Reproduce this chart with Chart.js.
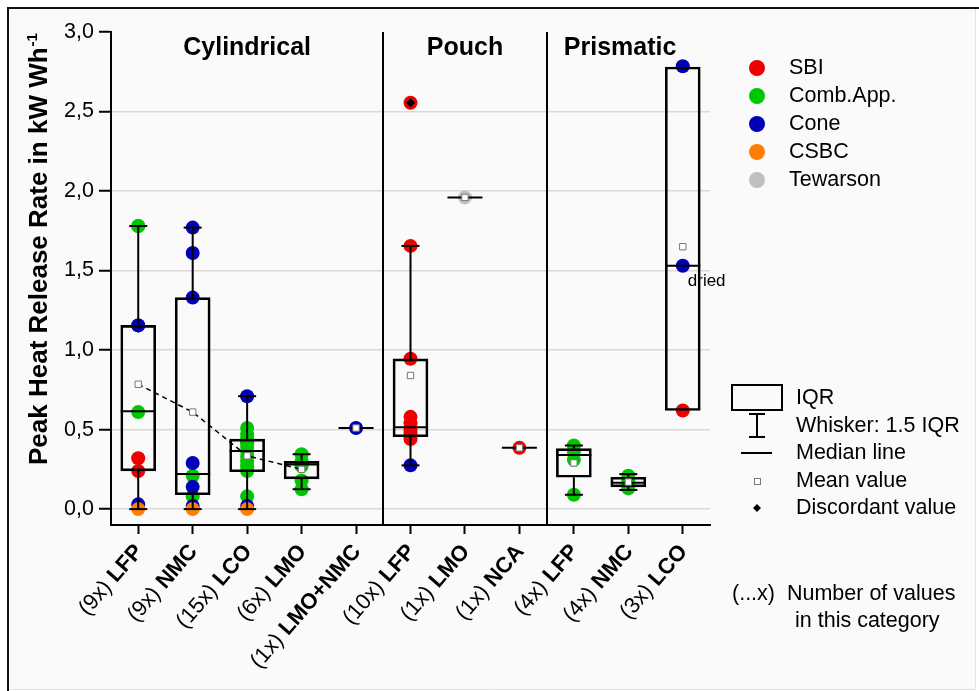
<!DOCTYPE html>
<html>
<head>
<meta charset="utf-8">
<script src="https://cdn.jsdelivr.net/npm/chart.js@4.4.0/dist/chart.umd.min.js"></script>
<style>
  html, body { margin: 0; padding: 0; background: #ffffff; }
  #wrap { width: 979px; height: 691px; }
</style>
</head>
<body>
<div id="wrap"><canvas id="hrr" width="979" height="691"></canvas></div>
<script>
// categories (cell format + chemistry)
const counts = ['(9x)', '(9x)', '(15x)', '(6x)', '(1x)', '(10x)', '(1x)', '(1x)', '(4x)', '(4x)', '(3x)'];
const chemistry = ['LFP', 'NMC', 'LCO', 'LMO', 'LMO+NMC', 'LFP', 'LMO', 'NCA', 'LFP', 'NMC', 'LCO'];
const groups = ['Cylindrical', 'Pouch', 'Prismatic'];
const groupCenters = [2, 6, 8.85];
const groupSeparators = [4.5, 7.5];
const yTickValues = [0, 0.5, 1, 1.5, 2, 2.5, 3];

// box statistics per category (null = only one value)
const whiskerLow  = [0.00, 0.00, 0.00, 0.125, null, 0.275, null, null, 0.09, 0.12, 0.62];
const quart1      = [0.24, 0.09, 0.235, 0.19, null, 0.455, null, null, 0.20, 0.14, 0.62];
const medians     = [0.615, 0.22, 0.365, 0.28, 0.51, 0.515, 1.96, 0.385, 0.34, 0.165, 1.53];
const quart3      = [1.155, 1.33, 0.44, 0.30, null, 0.945, null, null, 0.38, 0.20, 2.78];
const whiskerHigh = [1.78, 1.77, 0.71, 0.345, null, 1.655, null, null, 0.40, 0.22, 2.78];
const means       = [0.785, 0.61, 0.335, 0.25, 0.51, 0.84, 1.96, 0.385, 0.29, 0.17, 1.65];
const meanTrend   = [0, 1, 2, 3]; // cylindrical means joined by the dashed line

// single values per test method: [category, value]
const sbi = [[0, 0.32], [0, 0.24], [2, 0.42], [5, 2.555], [5, 1.655], [5, 0.945], [5, 0.58], [5, 0.54],
             [5, 0.50], [5, 0.48], [5, 0.46], [5, 0.44], [7, 0.385], [10, 0.62]];
const combApp = [[0, 1.78], [0, 1.78], [0, 0.61], [1, 0.21], [1, 0.08],
                 [2, 0.51], [2, 0.47], [2, 0.44], [2, 0.42], [2, 0.39], [2, 0.36], [2, 0.33], [2, 0.30], [2, 0.27], [2, 0.24], [2, 0.08],
                 [3, 0.345], [3, 0.30], [3, 0.29], [3, 0.27], [3, 0.18], [3, 0.125],
                 [8, 0.40], [8, 0.36], [8, 0.31], [8, 0.09], [9, 0.21], [9, 0.18], [9, 0.15], [9, 0.13]];
const cone = [[0, 1.155], [0, 1.155], [0, 0.03], [1, 1.77], [1, 1.61], [1, 1.33], [1, 0.29], [1, 0.14], [1, 0.02],
              [2, 0.71], [2, 0.02], [4, 0.51], [5, 0.275], [10, 2.785], [10, 1.53]];
const csbc = [[0, 0], [1, 0], [2, 0]];
const tewarson = [[6, 1.96]];
const discordant = [[5, 2.555]];

const FONT = "'Liberation Sans', Arial, sans-serif";
Chart.defaults.font.family = FONT;
Chart.defaults.color = '#000';

const toXY = list => list.map(([c, v]) => ({x: c, y: v}));
const methods = [
  {label: 'SBI', data: sbi, color: '#ee0000'},
  {label: 'Comb.App.', data: combApp, color: '#00c800'},
  {label: 'Cone', data: cone, color: '#0000b8'},
  {label: 'CSBC', data: csbc, color: '#ff8000'},
  {label: 'Tewarson', data: tewarson, color: '#c0c0c0'}
];

const boxes = [], whiskers = [], caps = [];
chemistry.forEach((_, i) => {
  if (quart1[i] === null) return;
  boxes.push({x: i, y: [quart1[i], quart3[i]]});
  if (whiskerLow[i] < quart1[i]) {
    whiskers.push({x: i, y: whiskerLow[i]}, {x: i, y: quart1[i]}, {x: i, y: null});
    caps.push({x: i, y: whiskerLow[i]});
  }
  if (whiskerHigh[i] > quart3[i]) {
    whiskers.push({x: i, y: quart3[i]}, {x: i, y: whiskerHigh[i]}, {x: i, y: null});
    caps.push({x: i, y: whiskerHigh[i]});
  }
});

const datasets = methods.map((m, k) => ({
  type: 'scatter', label: m.label, data: toXY(m.data),
  pointRadius: 7, backgroundColor: m.color, borderWidth: 0, order: 20 + (methods.length - k)
}));
datasets.push(
  {type: 'bar', label: 'IQR', data: boxes, backgroundColor: 'rgba(0,0,0,0)', borderColor: '#000',
   borderWidth: 2, borderSkipped: false, barThickness: 35, order: 3},
  {type: 'line', label: 'whisker', data: whiskers, borderColor: '#000', borderWidth: 2,
   pointRadius: 0, spanGaps: false, order: 3},
  {type: 'scatter', label: 'caps', data: caps, pointStyle: 'line', pointRadius: 9,
   borderColor: '#000', borderWidth: 2, order: 2},
  {type: 'scatter', label: 'median', data: medians.map((v, i) => ({x: i, y: v})), pointStyle: 'line',
   pointRadius: 17.5, borderColor: '#000', borderWidth: 2, order: 2},
  {type: 'line', label: 'trend', data: meanTrend.map(i => ({x: i, y: means[i]})), borderColor: '#000',
   borderWidth: 1.5, borderDash: [5, 4], pointRadius: 0, order: 1},
  {type: 'scatter', label: 'mean', data: means.map((v, i) => ({x: i, y: v})), pointStyle: 'rect',
   pointRadius: 4.5, backgroundColor: '#fff', borderColor: '#777', borderWidth: 1, order: 0},
  {type: 'scatter', label: 'discordant', data: toXY(discordant), pointStyle: 'rectRot',
   pointRadius: 4.5, backgroundColor: '#000', borderWidth: 0, order: -1}
);

const frame = {
  id: 'frame',
  beforeDraw(chart) {
    const c = chart.ctx;
    c.save();
    c.fillStyle = '#fff';
    c.fillRect(0, 0, chart.width, chart.height);
    c.fillStyle = '#fafafa';
    c.fillRect(9, 9, 966, 680);
    c.strokeStyle = '#e2e2e2';
    c.lineWidth = 1;
    c.beginPath();
    c.moveTo(975.5, 9); c.lineTo(975.5, 689.5); c.lineTo(9, 689.5);
    c.stroke();
    c.strokeStyle = '#111';
    c.lineWidth = 2;
    c.beginPath();
    c.moveTo(8, 691); c.lineTo(8, 8); c.lineTo(979, 8);
    c.stroke();
    c.restore();
  }
};

const decorations = {
  id: 'decorations',
  afterDraw(chart) {
    const c = chart.ctx, xs = chart.scales.x, ys = chart.scales.y, a = chart.chartArea;
    c.save();
    // separators between cell formats
    c.strokeStyle = '#000';
    c.lineWidth = 2;
    groupSeparators.forEach(s => {
      const px = Math.round(xs.getPixelForValue(s));
      c.beginPath(); c.moveTo(px, a.top); c.lineTo(px, a.bottom); c.stroke();
    });
    // group titles
    c.fillStyle = '#000';
    c.font = 'bold 25px ' + FONT;
    c.textAlign = 'center';
    c.textBaseline = 'alphabetic';
    groups.forEach((g, k) => c.fillText(g, xs.getPixelForValue(groupCenters[k]), 55));

    // x labels: "(n x)" normal + chemistry bold, rotated
    const ang = 49 * Math.PI / 180;
    chemistry.forEach((chem, i) => {
      c.save();
      c.translate(xs.getPixelForValue(i) + 1, a.bottom + 23);
      c.rotate(-ang);
      c.textAlign = 'right';
      c.textBaseline = 'middle';
      c.font = 'bold 22px ' + FONT;
      c.fillText(chem, 0, 0);
      const w = c.measureText(chem).width;
      c.font = '22px ' + FONT;
      c.fillText(counts[i] + ' ', -w, 0);
      c.restore();
    });

    // y title with superscript
    c.save();
    c.translate(47, 465);
    c.rotate(-Math.PI / 2);
    c.textAlign = 'left';
    c.textBaseline = 'alphabetic';
    c.font = 'bold 26px ' + FONT;
    const main = 'Peak Heat Release Rate in kW Wh';
    c.fillText(main, 0, 0);
    const mw = c.measureText(main).width;
    c.font = 'bold 15px ' + FONT;
    c.fillText('-1', mw + 1, -10);
    c.restore();

    // "dried" note
    c.font = '17px ' + FONT;
    c.textAlign = 'left';
    c.textBaseline = 'middle';
    c.fillText('dried', xs.getPixelForValue(10) + 5, ys.getPixelForValue(1.53) + 16);

    // method legend
    c.font = '21.5px ' + FONT;
    methods.forEach((m, k) => {
      const y = 68 + k * 28;
      c.fillStyle = m.color;
      c.beginPath(); c.arc(757, y, 8, 0, Math.PI * 2); c.fill();
      c.fillStyle = '#000';
      c.fillText(m.label, 789, y);
    });

    // box legend
    c.strokeStyle = '#000';
    c.lineWidth = 2;
    c.strokeRect(732, 385, 50, 25);
    c.beginPath();
    c.moveTo(757, 414); c.lineTo(757, 437);
    c.moveTo(749, 414); c.lineTo(765, 414);
    c.moveTo(749, 437); c.lineTo(765, 437);
    c.moveTo(741, 453); c.lineTo(772, 453);
    c.stroke();
    c.lineWidth = 1;
    c.strokeStyle = '#777';
    c.fillStyle = '#fff';
    c.fillRect(754, 478, 6, 6);
    c.strokeRect(754.5, 478.5, 6, 6);
    c.fillStyle = '#000';
    c.beginPath();
    c.moveTo(757, 504); c.lineTo(761, 508); c.lineTo(757, 512); c.lineTo(753, 508); c.closePath();
    c.fill();
    const boxLegend = ['IQR', 'Whisker: 1.5 IQR', 'Median line', 'Mean value', 'Discordant value'];
    const boxLegendY = [398, 426, 453, 481, 508];
    boxLegend.forEach((t, k) => c.fillText(t, 796, boxLegendY[k]));

    // count note
    c.fillText('(...x)  Number of values', 732, 594);
    c.fillText('in this category', 795, 621);
    c.restore();
  }
};

new Chart(document.getElementById('hrr'), {
  type: 'scatter',
  data: {datasets},
  options: {
    responsive: false,
    animation: false,
    events: [],
    layout: {padding: {left: 0, top: 32, right: 269, bottom: 0}},
    plugins: {legend: {display: false}, tooltip: {enabled: false}},
    scales: {
      x: {
        type: 'linear', min: -0.5, max: 10.5, offset: false,
        afterBuildTicks: s => { s.ticks = chemistry.map((_, i) => ({value: i})); },
        afterFit: s => { s.height = 166; },
        ticks: {display: false},
        grid: {offset: false, drawOnChartArea: false, drawTicks: true, tickLength: 9, tickColor: '#000', tickWidth: 2},
        border: {color: '#000', width: 2}
      },
      y: {
        type: 'linear', min: -0.1, max: 3.0,
        afterBuildTicks: s => { s.ticks = yTickValues.map(v => ({value: v})); },
        afterFit: s => { s.width = 111; },
        ticks: {
          font: {size: 21.5}, color: '#000', padding: 5,
          callback: v => v.toFixed(1).replace('.', ',')
        },
        grid: {
          color: ctx => (ctx.tick && ctx.tick.value === 3) ? 'rgba(0,0,0,0)' : '#d9d9d9',
          lineWidth: 1.5, tickColor: '#000', tickLength: 12, tickWidth: 2
        },
        border: {color: '#000', width: 2}
      }
    }
  },
  plugins: [frame, decorations]
});
</script>
</body>
</html>
